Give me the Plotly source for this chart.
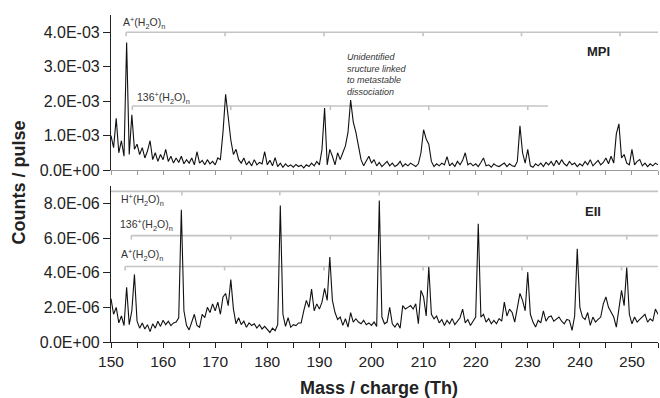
import numpy as np
import plotly.graph_objects as go

# ---------------- data ----------------
mass = np.arange(150.0, 255.01, 0.5)  # mass / charge sampling (Th), label scale

# MPI counts / pulse, in units of 1E-03
mpi_e3 = [
    1.00, 0.65, 1.50, 0.50, 0.85, 0.40, 3.70, 0.45, 1.60, 0.60,
    0.75, 0.45, 0.65, 0.35, 0.55, 0.85, 0.30, 0.50, 0.25, 0.45,
    0.30, 0.60, 0.25, 0.40, 0.20, 0.35, 0.22, 0.40, 0.18, 0.30,
    0.20, 0.35, 0.15, 0.53, 0.20, 0.28, 0.15, 0.30, 0.18, 0.25,
    0.15, 0.35, 0.30, 1.10, 2.20, 1.60, 0.87, 0.45, 0.60, 0.30,
    0.20, 0.35, 0.15, 0.25, 0.12, 0.30, 0.15, 0.22, 0.18, 0.53,
    0.15, 0.28, 0.12, 0.36, 0.10, 0.20, 0.08, 0.18, 0.10, 0.15,
    0.08, 0.16, 0.10, 0.14, 0.06, 0.15, 0.10, 0.20, 0.12, 0.25,
    0.15, 0.60, 1.80, 0.15, 0.60, 0.40, 0.15, 0.50, 0.30, 0.50,
    0.70, 1.10, 2.03, 1.40, 1.10, 0.70, 0.30, 0.12, 0.25, 0.40,
    0.20, 0.30, 0.12, 0.22, 0.10, 0.18, 0.25, 0.12, 0.20, 0.10,
    0.15, 0.25, 0.10, 0.18, 0.12, 0.20, 0.15, 0.10, 0.18, 0.50,
    1.17, 0.90, 0.75, 0.25, 0.10, 0.18, 0.12, 0.20, 0.15, 0.39,
    0.12, 0.20, 0.10, 0.25, 0.15, 0.28, 0.50, 0.15, 0.20, 0.12,
    0.18, 0.10, 0.22, 0.35, 0.12, 0.15, 0.08, 0.18, 0.12, 0.10,
    0.15, 0.20, 0.10, 0.18, 0.12, 0.10, 0.25, 1.28, 0.50, 0.20,
    0.60, 0.12, 0.08, 0.18, 0.12, 0.20, 0.10, 0.22, 0.15, 0.25,
    0.12, 0.28, 0.15, 0.30, 0.18, 0.12, 0.25, 0.15, 0.20, 0.10,
    0.18, 0.12, 0.25, 0.15, 0.30, 0.12, 0.20, 0.28, 0.15, 0.22,
    0.35, 0.18, 0.40, 0.20, 1.05, 1.34, 0.35, 0.45, 0.20, 0.15,
    0.60, 0.15, 0.25, 0.30, 0.12, 0.20, 0.10, 0.18, 0.12, 0.20,
    0.15,
]

# EII counts / pulse, in units of 1E-06
eii_e6 = [
    2.50, 1.60, 2.00, 1.10, 1.50, 0.95, 3.15, 1.00, 1.80, 3.90,
    1.20, 0.80, 1.10, 0.75, 1.00, 0.60, 1.05, 0.80, 1.20, 0.90,
    1.25, 1.00, 1.20, 0.95, 1.10, 1.15, 1.40, 7.63, 1.80, 0.95,
    0.70, 1.20, 1.60, 0.95, 0.85, 1.60, 1.40, 2.00, 1.70, 2.20,
    1.80, 2.30, 1.60, 2.60, 2.80, 2.10, 3.60, 1.90, 1.05, 1.40,
    1.00, 1.20, 0.85, 1.10, 0.95, 1.05, 0.80, 1.00, 0.75, 0.90,
    0.70, 0.55, 0.80, 0.65, 1.00, 7.88, 1.60, 0.90, 1.40, 0.85,
    1.00, 0.95, 1.10, 1.10, 1.80, 2.40, 2.00, 3.05, 1.80, 2.20,
    1.90, 2.30, 3.10, 2.40, 4.90, 2.40, 1.70, 1.30, 1.44, 0.96,
    1.34, 0.86, 1.70, 1.15, 1.34, 1.15, 1.05, 1.25, 1.00, 1.10,
    0.96, 1.15, 0.90, 8.17, 1.44, 1.05, 1.15, 2.00, 1.05, 0.86,
    1.10, 0.80, 2.10, 1.90, 2.00, 2.10, 1.90, 2.20, 1.05, 2.98,
    2.60, 1.50, 4.32, 1.60, 1.34, 1.50, 1.10, 1.30, 0.95, 1.25,
    1.05, 1.35, 1.00, 1.20, 1.40, 1.90, 1.10, 1.30, 0.95, 1.20,
    1.44, 6.82, 1.44, 1.60, 1.15, 1.35, 1.05, 1.25, 1.05, 1.35,
    1.20, 2.30, 1.50, 1.90, 1.70, 1.15, 2.00, 2.80, 2.40, 1.80,
    4.03, 1.60, 1.15, 0.86, 1.25, 1.10, 1.80, 1.20, 1.44, 1.50,
    1.20, 1.34, 1.44, 1.20, 1.05, 1.30, 1.25, 0.67, 1.50, 5.38,
    2.00, 1.44, 1.30, 1.70, 0.96, 1.44, 1.15, 1.30, 1.44, 2.20,
    2.60, 2.00, 1.70, 1.44, 0.86, 2.10, 2.98, 2.10, 4.29, 1.60,
    1.05, 1.44, 1.15, 1.30, 1.44, 1.60, 1.15, 1.34, 1.20, 1.90,
    1.60,
]

MPI_UNIT = 1e-3
EII_UNIT = 1e-6

# y tick labels
mpi_tickvals = [0, 1e-3, 2e-3, 3e-3, 4e-3]
mpi_ticktext = ["0.0E+00", "1.0E-03", "2.0E-03", "3.0E-03", "4.0E-03"]
eii_tickvals = [0, 2e-6, 4e-6, 6e-6, 8e-6]
eii_ticktext = ["0.0E+00", "2.0E-06", "4.0E-06", "6.0E-06", "8.0E-06"]

# cluster-series brackets: peak positions of each series
top_A_peaks = [152.9, 171.9, 190.9, 209.9, 228.8, 247.7]
top_136_peaks = [154.1, 173.0, 192.1, 211.0, 230.0]
bot_H_peaks = [163.6, 182.4, 201.5, 220.5, 239.4]
bot_136_peaks = [153.9, 173.0, 192.1, 211.0, 229.9, 249.0]
bot_A_peaks = [152.7, 171.8, 190.9, 209.9, 228.9, 248.0]

X_MIN, X_MAX = 150, 255

FONT = "Arial, Liberation Sans, sans-serif"
GREY = "#c4c4c4"

fig = go.Figure()


def bracket(peaks, level, start, end, tick, xa, ya):
    xs = [start, end, None]
    ys = [level, level, None]
    for p in peaks:
        xs += [p, p, None]
        ys += [level, level - tick, None]
    fig.add_trace(go.Scatter(x=xs, y=ys, mode="lines", xaxis=xa, yaxis=ya,
                             line=dict(color=GREY, width=1.6),
                             hoverinfo="skip", showlegend=False))


bracket(top_A_peaks, 4.0e-3, top_A_peaks[0], X_MAX, 0.12e-3, "x", "y")
bracket(top_136_peaks, 1.86e-3, top_136_peaks[0], 233.9, 0.12e-3, "x", "y")
bracket(bot_H_peaks, 8.69e-6, X_MIN, X_MAX, 0.23e-6, "x2", "y2")
bracket(bot_136_peaks, 6.14e-6, bot_136_peaks[0], X_MAX, 0.23e-6, "x2", "y2")
bracket(bot_A_peaks, 4.36e-6, bot_A_peaks[0], X_MAX, 0.23e-6, "x2", "y2")

fig.add_trace(go.Scatter(x=mass, y=np.array(mpi_e3) * MPI_UNIT, mode="lines",
                         line=dict(color="#111111", width=1.1),
                         xaxis="x", yaxis="y", showlegend=False, name="MPI"))
fig.add_trace(go.Scatter(x=mass, y=np.array(eii_e6) * EII_UNIT, mode="lines",
                         line=dict(color="#111111", width=1.1),
                         xaxis="x2", yaxis="y2", showlegend=False, name="EII"))

ytickfont = dict(family=FONT, size=16, color="#222222")
xtickfont = dict(family=FONT, size=15.5, color="#222222")

fig.update_layout(
    width=660, height=398,
    margin=dict(l=111, r=2, t=15, b=56),
    paper_bgcolor="white", plot_bgcolor="white",
    font=dict(family=FONT, color="#222222"),
    xaxis=dict(domain=[0, 1], anchor="y", range=[X_MIN, X_MAX],
               showline=True, linecolor="#9a9a9a", linewidth=1.2,
               ticks="outside", ticklen=4, tickcolor="#9a9a9a", dtick=5, tick0=150,
               showticklabels=False, showgrid=False, zeroline=False),
    yaxis=dict(domain=[0.526, 1], anchor="x", range=[0, 4.5e-3],
               tickvals=mpi_tickvals, ticktext=mpi_ticktext, tickfont=ytickfont,
               showline=True, linecolor="#222222", linewidth=1.2,
               ticks="outside", ticklen=7, tickcolor="#222222",
               showgrid=False, zeroline=False),
    xaxis2=dict(domain=[0, 1], anchor="y2", range=[X_MIN, X_MAX],
                showline=True, linecolor="#222222", linewidth=1.2,
                ticks="outside", ticklen=5, tickcolor="#222222", dtick=10, tick0=150,
                minor=dict(dtick=5, ticks="outside", ticklen=5, tickcolor="#222222"),
                tickfont=xtickfont, showgrid=False, zeroline=False),
    yaxis2=dict(domain=[0, 0.477], anchor="x2", range=[0, 9e-6],
                tickvals=eii_tickvals, ticktext=eii_ticktext, tickfont=ytickfont,
                showline=True, linecolor="#222222", linewidth=1.2,
                ticks="outside", ticklen=7, tickcolor="#222222",
                showgrid=False, zeroline=False),
)

lab_font = dict(family=FONT, size=10.5, color="#333333")
annos = [
    dict(x=151.86, y=4.265e-3, xref="x", yref="y",
         text="A<sup>+</sup>(H<sub>2</sub>O)<sub>n</sub>"),
    dict(x=154.6, y=2.08e-3, xref="x", yref="y",
         text="136<sup>+</sup>(H<sub>2</sub>O)<sub>n</sub>"),
    dict(x=151.5, y=8.17e-6, xref="x2", yref="y2",
         text="H<sup>+</sup>(H<sub>2</sub>O)<sub>n</sub>"),
    dict(x=151.4, y=6.77e-6, xref="x2", yref="y2",
         text="136<sup>+</sup>(H<sub>2</sub>O)<sub>n</sub>"),
    dict(x=151.6, y=5.0e-6, xref="x2", yref="y2",
         text="A<sup>+</sup>(H<sub>2</sub>O)<sub>n</sub>"),
]
for a in annos:
    fig.add_annotation(**a, xanchor="left", yanchor="middle", showarrow=False,
                       font=lab_font)

fig.add_annotation(x=194.9, y=2.78e-3, xref="x", yref="y", xanchor="left",
                   yanchor="middle", showarrow=False, align="left",
                   text="<i>Unidentified<br>sructure linked<br>to metastable<br>dissociation</i>",
                   font=dict(family=FONT, size=9, color="#333333"))
fig.add_annotation(x=243.5, y=3.44e-3, xref="x", yref="y", showarrow=False,
                   text="<b>MPI</b>", font=dict(family=FONT, size=13, color="#222222"))
fig.add_annotation(x=242.5, y=7.55e-6, xref="x2", yref="y2", showarrow=False,
                   text="<b>EII</b>", font=dict(family=FONT, size=13, color="#222222"))

fig.add_annotation(x=-0.168, y=0.488, xref="paper", yref="paper", textangle=-90,
                   showarrow=False, xanchor="center", yanchor="middle",
                   text="<b>Counts / pulse</b>",
                   font=dict(family=FONT, size=18, color="#222222"))
fig.add_annotation(x=0.49, y=-0.141, xref="paper", yref="paper", showarrow=False,
                   xanchor="center", yanchor="middle",
                   text="<b>Mass / charge (Th)</b>",
                   font=dict(family=FONT, size=18, color="#222222"))

fig.write_html("out.html",
               config={"displayModeBar": False},
               post_script="document.body.style.margin='0';"
                           "document.body.style.overflow='hidden';")
